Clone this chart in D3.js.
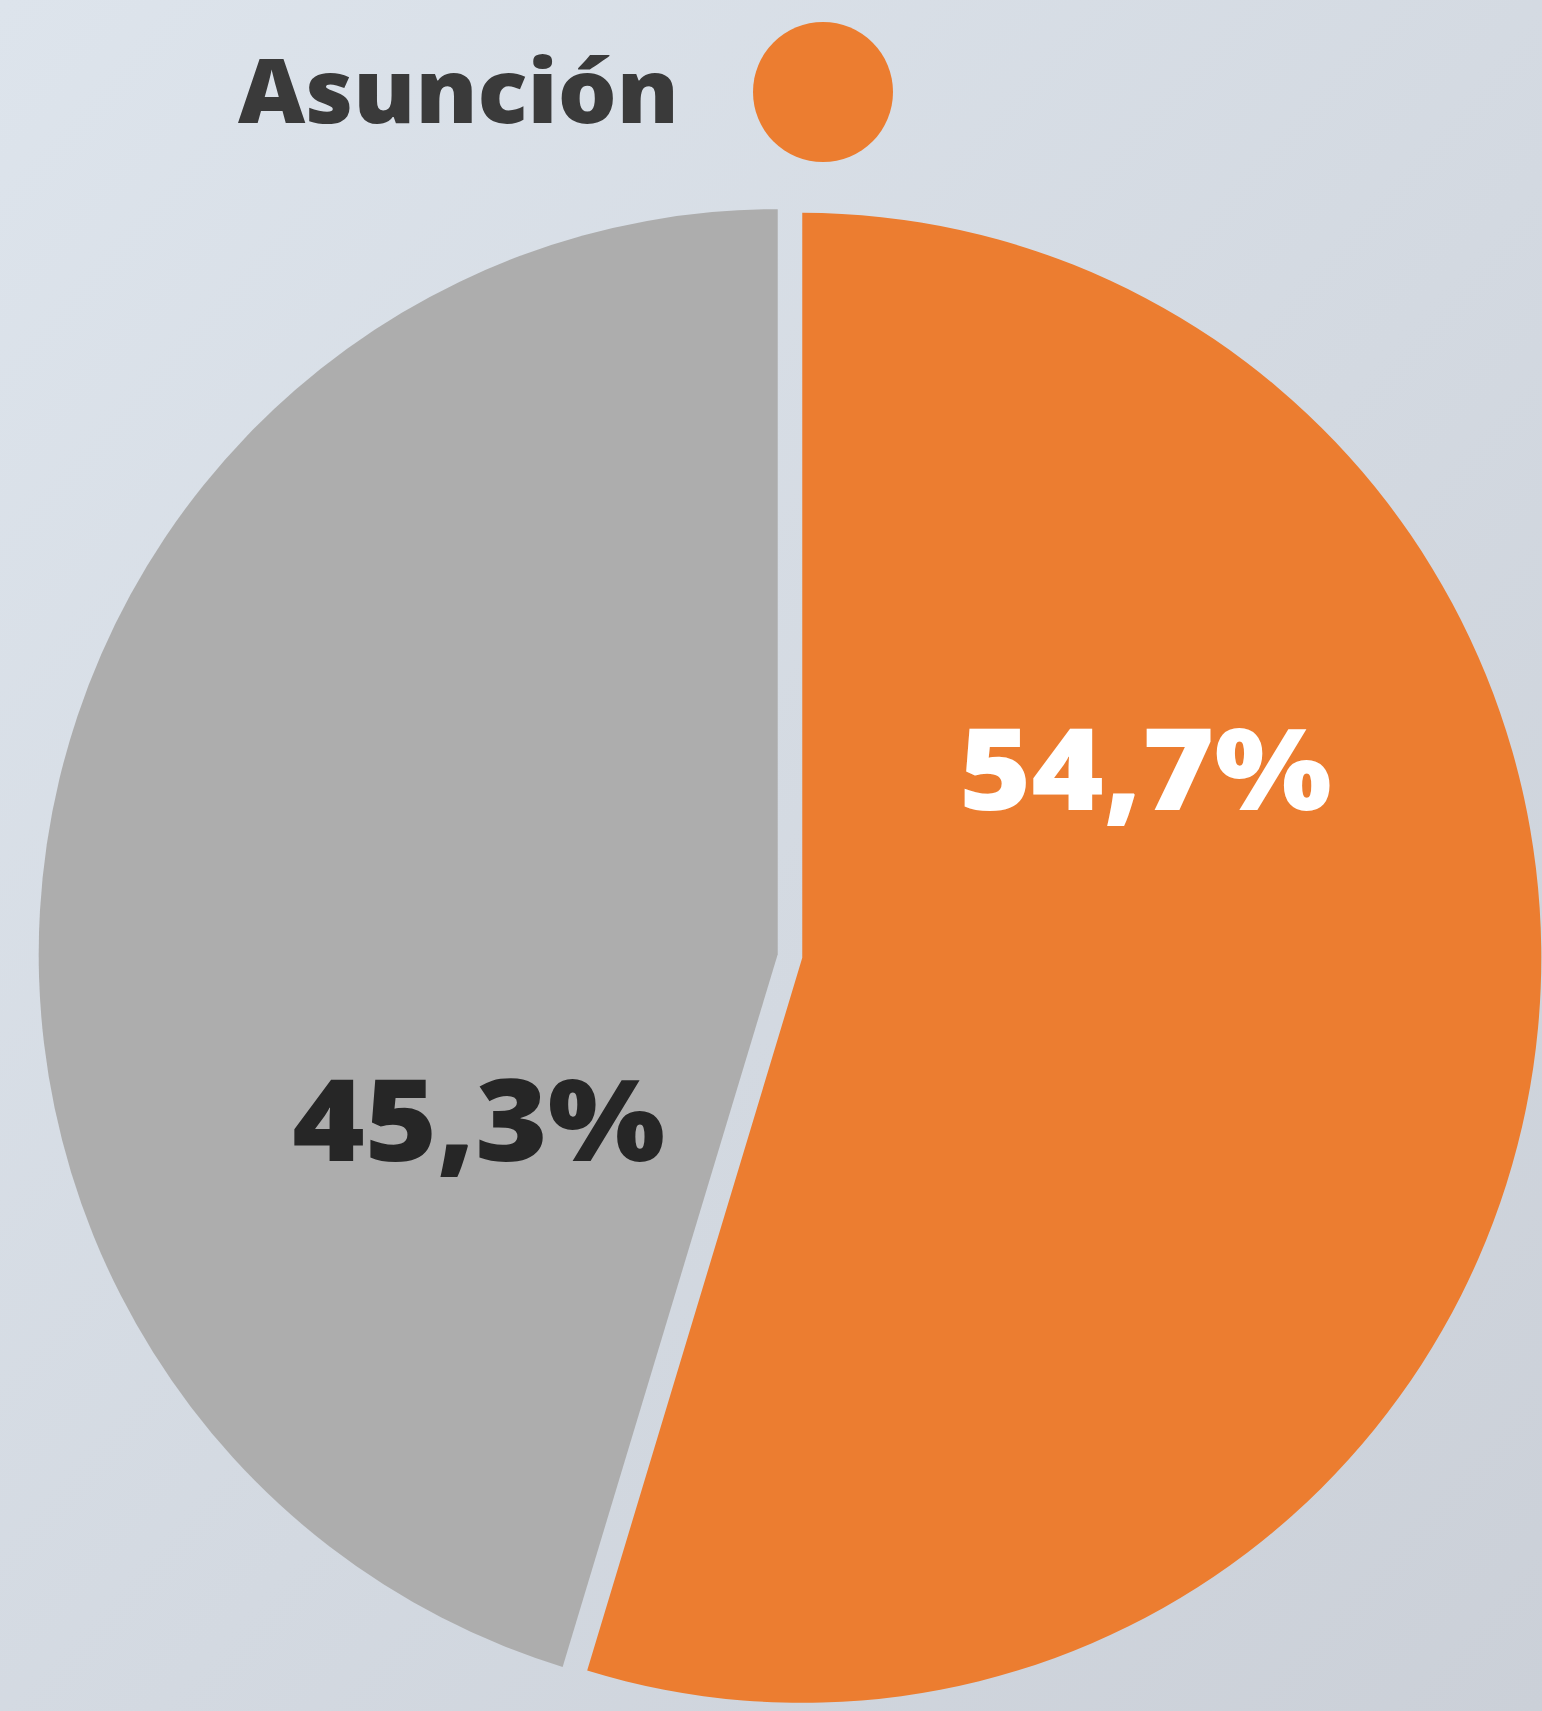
<!DOCTYPE html>
<html>
<head>
<meta charset="utf-8">
<script src="https://cdn.jsdelivr.net/npm/d3@7"></script>
<style>
  html, body { margin: 0; padding: 0; }
  body { width: 1542px; height: 1711px; overflow: hidden; }
</style>
</head>
<body>
<div id="chart"></div>
<script>
// data
const title = "Asunción";
const categories = ["Asunción", "Resto"];
const values = [54.7, 45.3];
const labels = ["54,7%", "45,3%"];
const colors = ["#ec7d30", "#adadad"];
const labelColors = ["#ffffff", "#262626"];

const width = 1542,
    height = 1711;

const cx = 790, cy = 956, radius = 745;
const squeezeX = 0.992; // the source picture is a little narrower than tall
const explode = 12.5;
// label placement: rotate back from slice middle and set distance from center
const labelShift = -36 * Math.PI / 180;
const labelRadius = [404, 354];

const svg = d3.select("#chart").append("svg")
    .attr("width", width)
    .attr("height", height)
    .attr("viewBox", [0, 0, width, height]);

// background gradient
const defs = svg.append("defs");
const grad = defs.append("linearGradient")
    .attr("id", "bg")
    .attr("x1", 0).attr("y1", 0)
    .attr("x2", 1).attr("y2", 1);
grad.append("stop").attr("offset", "0%").attr("stop-color", "#dde4ec");
grad.append("stop").attr("offset", "55%").attr("stop-color", "#d3d9e1");
grad.append("stop").attr("offset", "100%").attr("stop-color", "#cbd0d8");

svg.append("rect")
    .attr("width", width)
    .attr("height", height)
    .attr("fill", "url(#bg)");

const color = d3.scaleOrdinal().domain(categories).range(colors);

const pie = d3.pie().sort(null).value(d => d.value);
const arcs = pie(categories.map((c, i) => ({ name: c, value: values[i], label: labels[i], i })));

const arc = d3.arc().innerRadius(0).outerRadius(radius);

const g = svg.append("g").attr("transform", `translate(${cx},${cy}) scale(${squeezeX},1)`);

g.selectAll("path.slice")
    .data(arcs)
    .join("path")
    .attr("class", "slice")
    .attr("d", arc)
    .attr("fill", d => color(d.data.name))
    .attr("transform", d => {
        const mid = (d.startAngle + d.endAngle) / 2;
        const [x, y] = d3.pointRadial(mid, explode);
        return `translate(${x},${y})`;
    });

g.selectAll("text.value")
    .data(arcs)
    .join("text")
    .attr("class", "value")
    .attr("transform", d => {
        const mid = (d.startAngle + d.endAngle) / 2 + labelShift;
        const [x, y] = d3.pointRadial(mid, labelRadius[d.data.i]);
        return `translate(${x},${y})`;
    })
    .attr("text-anchor", "middle")
    .attr("dy", "0.36em")
    .attr("textLength", 376)
    .attr("lengthAdjust", "spacingAndGlyphs")
    .style("font-family", "'Open Sans', sans-serif")
    .style("font-weight", 800)
    .style("font-size", "114px")
    .attr("fill", d => labelColors[d.data.i])
    .text(d => d.data.label);

// legend: title + coloured dot
svg.append("text")
    .attr("x", 238)
    .attr("y", 123)
    .attr("textLength", 441)
    .attr("lengthAdjust", "spacingAndGlyphs")
    .style("font-family", "'Open Sans', sans-serif")
    .style("font-weight", 800)
    .style("font-size", "88px")
    .attr("fill", "#3a3a3a")
    .text(title);

svg.append("circle")
    .attr("cx", 823)
    .attr("cy", 92)
    .attr("r", 70)
    .attr("fill", color(categories[0]));
</script>
</body>
</html>
